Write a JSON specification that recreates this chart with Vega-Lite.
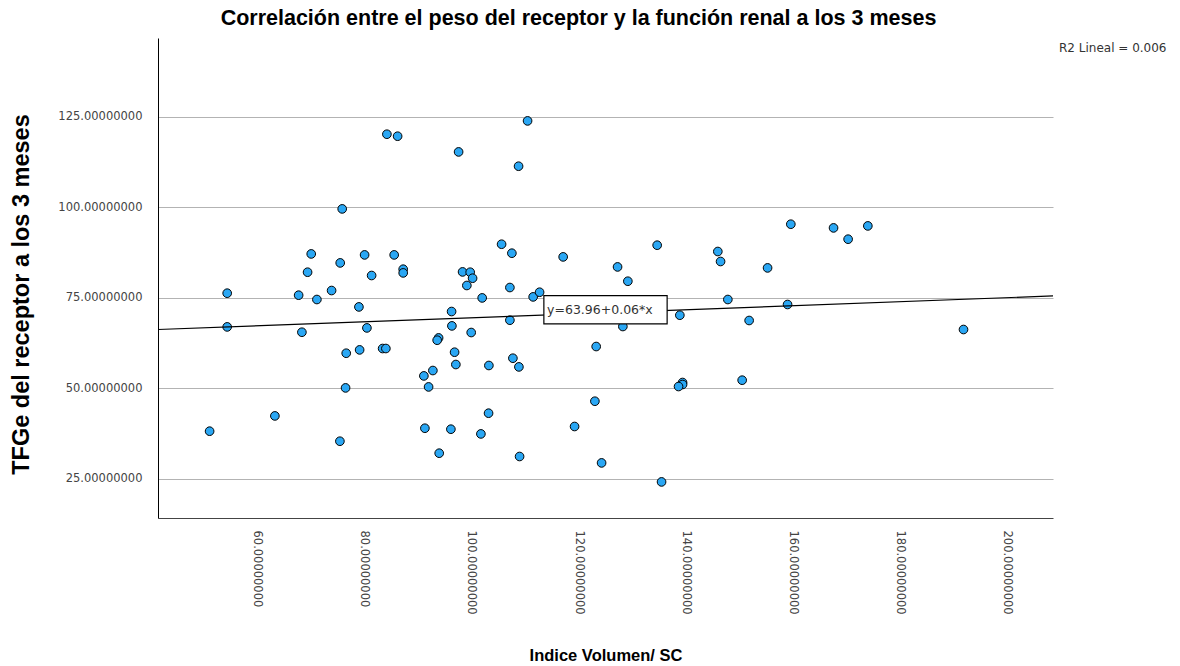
{
  "$schema": "https://vega.github.io/schema/vega-lite/v6.json",
  "autosize": "none",
  "width": 895,
  "height": 480,
  "padding": {"left": 158, "top": 38, "right": 127, "bottom": 148},
  "background": "white",
  "config": {
    "view": {"stroke": null},
    "font": "Liberation Sans"
  },
  "title": {
    "text": "Correlación entre el peso del receptor y la función renal a los 3 meses",
    "font": "Liberation Sans",
    "fontSize": 21.5,
    "fontWeight": "bold",
    "color": "black",
    "anchor": "middle",
    "dx": -27,
    "offset": 9
  },
  "datasets": {
    "points": [
      {"x": 54.51, "y": 76.30}, {"x": 67.84, "y": 75.75}, {"x": 71.25, "y": 74.56}, {"x": 73.99, "y": 77.04},
      {"x": 79.09, "y": 72.51}, {"x": 69.51, "y": 82.10}, {"x": 70.19, "y": 87.15}, {"x": 75.60, "y": 84.67},
      {"x": 80.15, "y": 86.88}, {"x": 81.46, "y": 81.19}, {"x": 85.67, "y": 86.88}, {"x": 87.35, "y": 82.93},
      {"x": 87.35, "y": 81.91}, {"x": 75.97, "y": 99.59}, {"x": 84.31, "y": 120.22}, {"x": 86.31, "y": 119.67},
      {"x": 97.69, "y": 115.33}, {"x": 110.56, "y": 123.90}, {"x": 108.88, "y": 111.38}, {"x": 105.71, "y": 89.83},
      {"x": 107.63, "y": 87.35}, {"x": 117.20, "y": 86.33}, {"x": 98.43, "y": 82.18}, {"x": 99.85, "y": 82.10},
      {"x": 100.30, "y": 80.44}, {"x": 99.23, "y": 78.43}, {"x": 107.26, "y": 77.87}, {"x": 102.09, "y": 75.00},
      {"x": 111.60, "y": 75.28}, {"x": 112.80, "y": 76.57}, {"x": 96.38, "y": 71.24}, {"x": 127.35, "y": 83.56},
      {"x": 129.27, "y": 79.61}, {"x": 134.74, "y": 89.56}, {"x": 146.06, "y": 87.82}, {"x": 146.57, "y": 85.06},
      {"x": 155.34, "y": 83.29}, {"x": 159.68, "y": 95.36}, {"x": 167.65, "y": 94.34}, {"x": 170.37, "y": 91.22},
      {"x": 174.05, "y": 94.89}, {"x": 147.93, "y": 74.56}, {"x": 159.07, "y": 73.18}, {"x": 107.26, "y": 68.84},
      {"x": 54.51, "y": 66.99}, {"x": 68.45, "y": 65.52}, {"x": 80.58, "y": 66.71}, {"x": 96.44, "y": 67.27},
      {"x": 100.04, "y": 65.44}, {"x": 93.96, "y": 63.95}, {"x": 93.69, "y": 63.31}, {"x": 76.72, "y": 59.72},
      {"x": 79.22, "y": 60.64}, {"x": 83.51, "y": 61.02}, {"x": 84.12, "y": 61.02}, {"x": 96.94, "y": 60.00},
      {"x": 97.18, "y": 56.60}, {"x": 103.34, "y": 56.33}, {"x": 107.82, "y": 58.34}, {"x": 108.94, "y": 55.94},
      {"x": 92.89, "y": 54.94}, {"x": 91.21, "y": 53.45}, {"x": 92.09, "y": 50.41}, {"x": 76.60, "y": 50.14},
      {"x": 123.36, "y": 61.57}, {"x": 123.12, "y": 46.46}, {"x": 103.28, "y": 43.15}, {"x": 63.41, "y": 42.40},
      {"x": 51.23, "y": 38.18}, {"x": 75.54, "y": 35.41}, {"x": 91.40, "y": 39.00}, {"x": 96.25, "y": 38.73},
      {"x": 101.85, "y": 37.43}, {"x": 119.33, "y": 39.48}, {"x": 94.07, "y": 32.10}, {"x": 109.07, "y": 31.19},
      {"x": 124.37, "y": 29.42}, {"x": 128.34, "y": 67.10}, {"x": 138.97, "y": 70.22}, {"x": 151.90, "y": 68.76},
      {"x": 191.90, "y": 66.27}, {"x": 139.48, "y": 51.63}, {"x": 139.48, "y": 51.08}, {"x": 138.73, "y": 50.52},
      {"x": 150.60, "y": 52.27}, {"x": 135.56, "y": 24.17}
    ],
    "fit": [
      {"x": 41.6, "y": 66.27},
      {"x": 208.6, "y": 75.54}
    ],
    "box": [
      {"x": 113.6, "x2": 136.6, "y": 75.64, "y2": 67.82, "label": "y=63.96+0.06*x", "tx": 114.2, "ty": 71.7}
    ],
    "r2": [
      {"x": 229.78, "y": 144.0, "label": "R2 Lineal =  0.006"}
    ]
  },
  "layer": [
    {
      "data": {"name": "points"},
      "mark": {"type": "point", "shape": "circle", "filled": true, "fill": "#2aa7f4", "stroke": "black", "strokeWidth": 1, "size": 75, "opacity": 1},
      "encoding": {
        "x": {
          "field": "x", "type": "quantitative",
          "scale": {"domain": [41.6, 208.6], "nice": false, "zero": false},
          "axis": {
            "values": [60, 80, 100, 120, 140, 160, 180, 200],
            "format": ".8f",
            "labelAngle": 90,
            "labelFont": "DejaVu Sans",
            "labelFontSize": 11.5,
            "labelColor": "#444444",
            "labelPadding": 12,
            "ticks": false,
            "grid": false,
            "domainColor": "#444444",
            "domainWidth": 1,
            "title": "Indice Volumen/ SC",
            "titleFont": "Liberation Sans",
            "titleFontSize": 16.5,
            "titleFontWeight": "bold",
            "titleColor": "black",
            "titlePadding": 33
          }
        },
        "y": {
          "field": "y", "type": "quantitative",
          "scale": {"domain": [14.2, 146.8], "nice": false, "zero": false},
          "axis": {
            "values": [25, 50, 75, 100, 125],
            "format": ".8f",
            "labelFont": "DejaVu Sans",
            "labelFontSize": 11.5,
            "labelColor": "#444444",
            "labelPadding": 16,
            "ticks": false,
            "grid": true,
            "gridColor": "#b3b3b3",
            "gridWidth": 1.2,
            "domainColor": "black",
            "domainWidth": 1,
            "title": "TFGe del receptor a los 3 meses",
            "titleFont": "Liberation Sans",
            "titleFontSize": 23.5,
            "titleFontWeight": "bold",
            "titleColor": "black",
            "titlePadding": 24,
            "titleY": 256
          }
        }
      }
    },
    {
      "data": {"name": "fit"},
      "mark": {"type": "line", "color": "black", "strokeWidth": 1.2},
      "encoding": {
        "x": {"field": "x", "type": "quantitative"},
        "y": {"field": "y", "type": "quantitative"}
      }
    },
    {
      "data": {"name": "box"},
      "mark": {"type": "rect", "fill": "white", "stroke": "black", "strokeWidth": 1.2},
      "encoding": {
        "x": {"field": "x", "type": "quantitative"},
        "x2": {"field": "x2"},
        "y": {"field": "y", "type": "quantitative"},
        "y2": {"field": "y2"}
      }
    },
    {
      "data": {"name": "box"},
      "mark": {"type": "text", "align": "left", "baseline": "middle", "font": "DejaVu Sans", "fontSize": 12.5, "color": "#333333"},
      "encoding": {
        "x": {"field": "tx", "type": "quantitative"},
        "y": {"field": "ty", "type": "quantitative"},
        "text": {"field": "label"}
      }
    },
    {
      "data": {"name": "r2"},
      "mark": {"type": "text", "align": "right", "baseline": "middle", "font": "DejaVu Sans", "fontSize": 12, "color": "#333333"},
      "encoding": {
        "x": {"field": "x", "type": "quantitative"},
        "y": {"field": "y", "type": "quantitative"},
        "text": {"field": "label"}
      }
    }
  ]
}
